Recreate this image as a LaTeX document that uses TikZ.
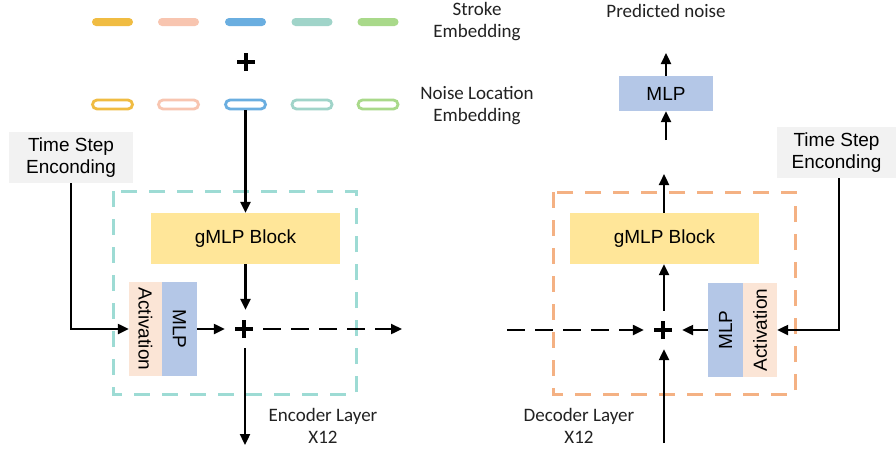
\documentclass[tikz,border=0pt]{standalone}
\usepackage{fontspec}
\setmainfont{Liberation Sans}
\newfontfamily\calib{Carlito}
\usetikzlibrary{arrows.meta}
\definecolor{cOrange}{HTML}{F0BC42}
\definecolor{cPink}{HTML}{F8C5B0}
\definecolor{cBlue}{HTML}{6AAEE0}
\definecolor{cTeal}{HTML}{A0D4C9}
\definecolor{cGreen}{HTML}{A9D98A}
\definecolor{gmlpfill}{HTML}{FFE699}
\definecolor{mlpfill}{HTML}{B4C7E7}
\definecolor{actfill}{HTML}{FBE5D6}
\definecolor{tsfill}{HTML}{F2F2F2}
\definecolor{encborder}{HTML}{9DDBD4}
\definecolor{decborder}{HTML}{F4B183}
\definecolor{labelgray}{HTML}{222222}
\tikzset{
  boxtext/.style={font=\fontsize{19}{22}\selectfont, text=black, inner sep=0pt, align=center},
  lbl/.style={font=\calib\fontsize{19}{22}\selectfont, text=labelgray, align=center, inner sep=0pt},
  tsbox/.style={boxtext, fill=tsfill, draw=none},
  gmlpbox/.style={boxtext, fill=gmlpfill, minimum width=189pt, minimum height=51pt},
  mlpbox/.style={boxtext, fill=mlpfill},
  actbox/.style={boxtext, fill=actfill},
  pill/.style={rectangle, rounded corners=4pt, minimum width=41pt, minimum height=8pt, inner sep=0pt},
  opill/.style={rectangle, rounded corners=4.5pt, minimum width=40pt, minimum height=9pt, inner sep=0pt, line width=2.8pt, fill=white},
  plusnode/.style={circle, minimum size=38pt, inner sep=0pt,
    path picture={\draw[line width=4pt] ([xshift=-9pt]path picture bounding box.center) -- ([xshift=9pt]path picture bounding box.center);
                  \draw[line width=4pt] ([yshift=-9pt]path picture bounding box.center) -- ([yshift=9pt]path picture bounding box.center);}},
  arr/.style={line width=2.3pt, -{Triangle[length=11pt,width=10pt]}},
  darr/.style={arr, dash pattern=on 18pt off 10pt},
  layerbox/.style={line width=3pt, dash pattern=on 16pt off 12pt}
}
\begin{document}
\begin{tikzpicture}[x=1pt,y=-1pt]
\useasboundingbox (0,0) rectangle (896,451);
\fill[white] (0,0) rectangle (896,451);

% stroke embedding pills
\node[pill, fill=cOrange] (s1) at (112.5,22) {};
\node[pill, fill=cPink]   (s2) at (178.5,22) {};
\node[pill, fill=cBlue]   (s3) at (245.5,22) {};
\node[pill, fill=cTeal]   (s4) at (312,22) {};
\node[pill, fill=cGreen]  (s5) at (378,22) {};
\node[lbl] (strokelbl) at (477,22) {Stroke\\Embedding};
\node[plusnode] (ptop) at (246,62) {};
% noise location pills
\node[opill, draw=cOrange] (n1) at (112.5,104.5) {};
\node[opill, draw=cPink]   (n2) at (178.5,104.5) {};
\node[opill, draw=cBlue]   (n3) at (245.5,104.5) {};
\node[opill, draw=cTeal]   (n4) at (312,104.5) {};
\node[opill, draw=cGreen]  (n5) at (378,104.5) {};
\node[lbl] (noiselbl) at (477,106) {Noise Location\\Embedding};

% encoder
\draw[encborder, layerbox] (113,191) rectangle (356,394);
\node[tsbox, minimum width=124pt, minimum height=51pt] (tsL) at (71,157.5) {Time Step\\Enconding};
\node[gmlpbox] (gmlpL) at (245.5,238.5) {gMLP Block};
\node[actbox, minimum height=33pt, minimum width=94pt, rotate=-90] (actL) at (145.5,329) {Activation};
\node[mlpbox, minimum height=35pt, minimum width=94pt, rotate=-90] (mlpL) at (179.5,329) {MLP};
\node[plusnode] (plusL) at (244,329) {};
\coordinate (encout) at (402,329);
\coordinate (encbot) at (245,445);
\node[lbl] (enclbl) at (323,426) {Encoder Layer\\X12};

\draw[arr] (n3.south) -- (gmlpL.north);
\draw[arr] (gmlpL.south) -- (gmlpL.south |- plusL.north);
\draw[arr] (tsL.south) |- (actL.south);
\draw[arr] (mlpL.north) -- (plusL.west);
\draw[darr] (plusL.east) -- (encout);
\draw[arr] (encbot |- plusL.south) -- (encbot);

% decoder
\draw[decborder, layerbox] (553,192) rectangle (795,394);
\node[lbl] (predlbl) at (666,11) {Predicted noise};
\node[mlpbox, minimum width=94pt, minimum height=35pt] (mlpTop) at (666,93.5) {MLP};
\coordinate (predtip) at (666,53);
\coordinate (mlpin) at (666,140);
\coordinate (gmlpout) at (664,174);
\node[gmlpbox] (gmlpR) at (664.5,238.5) {gMLP Block};
\node[mlpbox, minimum height=35pt, minimum width=94pt, rotate=90] (mlpR) at (725.5,330) {MLP};
\node[actbox, minimum height=34pt, minimum width=94pt, rotate=90] (actR) at (760,330) {Activation};
\node[plusnode] (plusR) at (663,330) {};
\node[tsbox, minimum width=119pt, minimum height=51pt] (tsR) at (836.5,152.5) {Time Step\\Enconding};
\coordinate (decin) at (507,330);
\coordinate (decbot) at (664,443);
\node[lbl] (declbl) at (579,425.5) {Decoder Layer\\X12};

\draw[arr] (mlpTop.north) -- (predtip);
\draw[arr] (mlpin) -- (mlpTop.south);
\draw[arr] (gmlpout |- gmlpR.north) -- (gmlpout);
\draw[arr] (decbot |- plusR.north) -- (decbot |- gmlpR.south);
\draw[arr] ([xshift=2.5pt]tsR.south) |- (actR.south);
\draw[arr] (mlpR.north) -- (plusR.east);
\draw[darr] (decin) -- (plusR.west);
\draw[arr] (decbot) -- (decbot |- plusR.south);
\end{tikzpicture}
\end{document}
